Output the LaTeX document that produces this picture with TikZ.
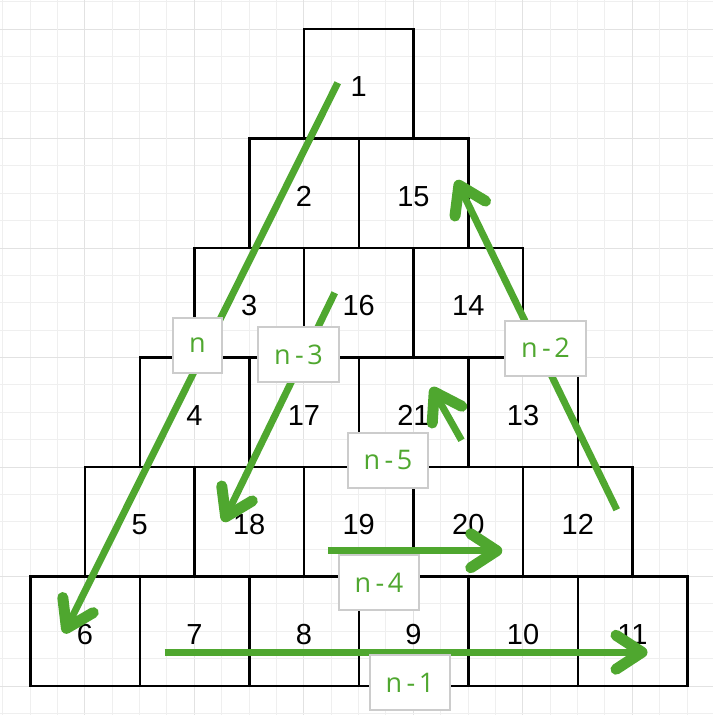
\documentclass[tikz,border=0pt]{standalone}
\usepackage{fontspec}
\setmainfont{Liberation Sans}
\newfontfamily\labfont{Open Sans}
\usetikzlibrary{arrows.meta, calc}
\definecolor{grid-minor}{HTML}{EFEFEF}
\definecolor{grid-major}{HTML}{E2E2E2}
\definecolor{walk}{HTML}{4FA72F}
\definecolor{tag-line}{HTML}{CCCCCC}
\newcommand\nminus[1]{n\kern4.5pt-\kern3.5pt#1}

\begin{document}
\begin{tikzpicture}[x=1pt, y=-1pt,
          cell/.style={draw=black, line width=2.5pt, minimum size=109.5pt,
                       inner sep=0pt, font=\fontsize{29}{30}\selectfont},
          walkarrow/.style={draw=walk, line width=7pt,
                       -{Straight Barb[length=26pt, width=34pt, line width=11pt, round]}},
          tag/.style={draw=tag-line, line width=2pt, fill=white, text=walk,
                      minimum height=55pt, minimum width=49pt, inner xsep=16pt,
                      font=\labfont\fontsize{27}{28}\selectfont}]
        % Diagram: triangle of 21 numbered cells, filled in a spiral;
        % green arrows show each run, tagged with its length.
        % Coordinates: pixels, y downwards -- row r, column c sits at
        %   x = 358.75 + (2c - r)*54.75,  y = 83.75 + r*109.5.
        \useasboundingbox (0,0) rectangle (713,723);
        \begin{scope}
          \clip (0,0) rectangle (713,714);
          \foreach \k in {-1,...,25} {
            \pgfmathtruncatemacro\m{mod(\k+8,4)}
            \ifnum\m=2
              \draw[grid-major, line width=1pt] ({30+27.375*\k},0) -- ++(0,723);
            \else
              \draw[grid-minor, line width=1pt] ({30+27.375*\k},0) -- ++(0,723);
            \fi
            \ifnum\m=0
              \draw[grid-major, line width=1pt] (0,{29+27.375*\k}) -- ++(713,0);
            \else
              \draw[grid-minor, line width=1pt] (0,{29+27.375*\k}) -- ++(713,0);
            \fi
          }
        \end{scope}
        \foreach \r/\c/\num in {0/0/1, 1/0/2, 1/1/15, 2/0/3, 2/1/16, 2/2/14,
            3/0/4, 3/1/17, 3/2/21, 3/3/13, 4/0/5, 4/1/18, 4/2/19, 4/3/20,
            4/4/12, 5/0/6, 5/1/7, 5/2/8, 5/3/9, 5/4/10, 5/5/11} {
          \node[cell] (b\num) at ({358.75+(2*\c-\r)*54.75},{83.75+\r*109.5})
            {\raisebox{-3pt}[\height][\depth]{\num}};
        }
        % arrow ends, taken from the cells they run through
        \coordinate (n-tail)  at ($(b1)+(-21,-1)$);
        \coordinate (n-tip)   at ($(b6)+(-21,2)$);
        \coordinate (n1-tail) at ($(b7)+(-30,21)$);
        \coordinate (n1-tip)  at ($(b11)+(15,21)$);
        \coordinate (n2-tail) at ($(b12)+(39,-12)$);
        \coordinate (n2-tip)  at ($(b15)+(43,-13)$);
        \coordinate (n3-tail) at ($(b16)+(-24,-10)$);
        \coordinate (n3-tip)  at ($(b18)+(-26,0)$);
        \coordinate (n4-tail) at ($(b19)+(-31,29)$);
        \coordinate (n4-tip)  at ($(b20)+(34,29)$);
        \coordinate (n5-tail) at ($(b21)+(48,28)$);
        \coordinate (n5-tip)  at ($(b21)+(18,-25)$);
        \foreach \a in {n, n1, n2, n3, n4, n5} {
          \draw[walkarrow] (\a-tail) -- (\a-tip);
        }
        \node[tag] (tag-n)  at (197.5,345)  {n};
        \node[tag] (tag-n3) at (298.5,354.5) {\nminus{3}};
        \node[tag] (tag-n2) at (545.5,348)  {\nminus{2}};
        \node[tag] (tag-n5) at (388,460)    {\nminus{5}};
        \node[tag] (tag-n4) at (379,582.5)  {\nminus{4}};
        \node[tag] (tag-n1) at (410,682.5)  {\nminus{1}};
      \end{tikzpicture}
\end{document}
